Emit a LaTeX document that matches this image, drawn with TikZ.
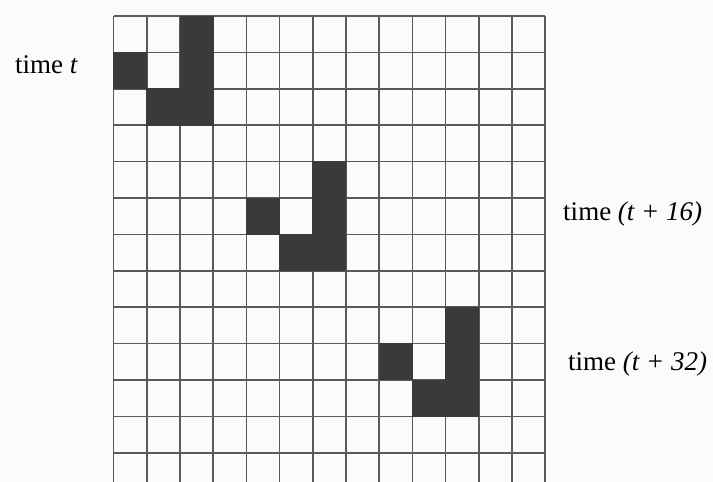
\documentclass[tikz,border=0pt]{standalone}
\usepackage{fontspec}
\setmainfont{Liberation Serif}
\definecolor{paper}{HTML}{FBFBFB}
\definecolor{cellfill}{HTML}{3A3A3A}
\definecolor{gridline}{HTML}{5A5A5A}

\begin{document}
\begin{tikzpicture}[x=33.2pt, y=-36.4pt, every node/.style={font=\fontsize{27}{30}\selectfont, inner sep=0pt, anchor=base west}]
	% Page
	\fill[paper] (-3.419,-0.44) rectangle (18.057,12.80);
	\useasboundingbox (-3.419,-0.44) rectangle (18.057,12.80);
	
	% Grid lines
	\foreach \c in {0,...,13}
		\draw[gridline, line width=1.6pt] (\c,0) -- (\c,12.80);
	\foreach \r in {0,...,12}
		\draw[gridline, line width=1.6pt] (0,\r) -- (13,\r);
	
	% Live cells at time t, t+16 and t+32 (drawn on top of the grid)
	\foreach \c/\r in {2/0, 0/1, 2/1, 1/2, 2/2,
	                   6/4, 4/5, 6/5, 5/6, 6/6,
	                   10/8, 8/9, 10/9, 9/10, 10/10}
		\fill[cellfill] ([xshift=-0.4pt, yshift=0.4pt]\c,\r) rectangle ([xshift=0.4pt, yshift=-0.4pt]\c+1,\r+1);
	
	% Labels
	\node (lbl0) at (-2.967,1.59) {time \textit{t}};
	\node (lbl16) at (13.54,5.62) {time \textit{(t + 16)}};
	\node (lbl32) at (13.69,9.74) {time \textit{(t + 32)}};
\end{tikzpicture}
\end{document}
